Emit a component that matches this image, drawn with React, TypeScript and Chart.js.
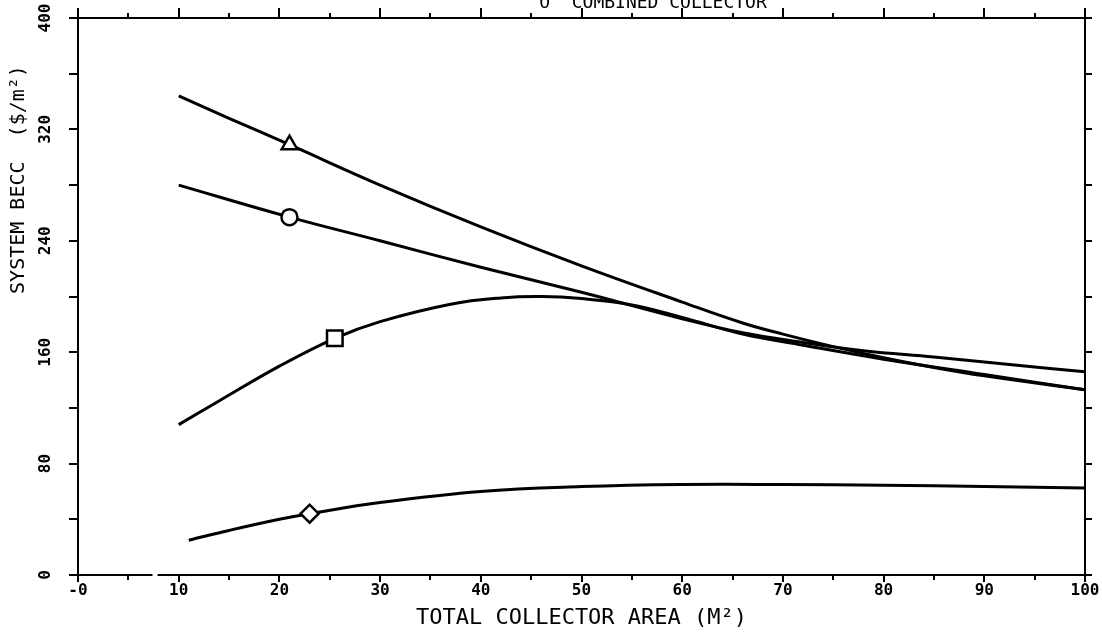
import React, { useEffect, useRef } from 'react';
import { Chart, registerables } from 'chart.js';

Chart.register(...registerables);

// ---- data ----
const triangleX = [10, 15, 21, 30, 40, 50, 60, 66, 70, 75, 80, 85, 90, 100];
const triangleY = [344, 328, 309, 280, 250, 222, 196, 181, 173, 164, 156, 149, 143, 133];
const triangleMarkerIndex = 2;

const circleX = [10, 21, 30, 40, 50, 60, 66, 72, 78, 85, 92, 100];
const circleY = [280, 257, 240, 221, 203, 184, 174, 167, 161, 156.5, 151.5, 146];
const circleMarkerIndex = 1;

const squareX = [10, 14, 20, 25.5, 30, 37, 42, 46, 50, 55, 60, 66, 72, 80, 90, 100];
const squareY = [108, 125, 150, 170, 182, 194.5, 199, 200, 198.5, 194, 185, 173, 165, 155, 144, 133];
const squareMarkerIndex = 3;

const diamondX = [11, 15, 20, 23, 30, 40, 50, 60, 70, 80, 90, 100];
const diamondY = [25, 32, 40, 44, 52, 60, 63.5, 65, 65, 64.5, 63.5, 62.5];
const diamondMarkerIndex = 3;

const X_MIN = 0;
const X_MAX = 100;
const X_MAJOR = 10;
const X_MINOR = 5;
const Y_MIN = 0;
const Y_MAX = 400;
const Y_MAJOR = 80;
const Y_MINOR = 40;
const AXIS_BREAK = [7.4, 7.9];

const xTitle = 'TOTAL COLLECTOR AREA (M\u00B2)';
const yTitle = 'SYSTEM BECC  ($/m\u00B2)';
const legendText = 'O  COMBINED COLLECTOR';
const LEGEND_X_VALUE = 45.8;
const Y_TITLE_CENTER_VALUE = 284;

const FONT = '"DejaVu Sans Mono", "Liberation Mono", monospace';

function toPoints(xs: number[], ys: number[]) {
  return xs.map((x, i) => ({ x, y: ys[i] }));
}

function markerRadii(n: number, idx: number, r: number) {
  return Array.from({ length: n }, (_, i) => (i === idx ? r : 0));
}

const decorPlugin = {
  id: 'decor',
  afterDraw(chart: any) {
    const ctx = chart.ctx as CanvasRenderingContext2D;
    const a = chart.chartArea;
    const xs = chart.scales.x;
    const ys = chart.scales.y;
    ctx.save();
    // axis break on the bottom axis
    const b1 = xs.getPixelForValue(AXIS_BREAK[0]);
    const b2 = xs.getPixelForValue(AXIS_BREAK[1]);
    ctx.fillStyle = '#fff';
    ctx.fillRect(b1, a.bottom - 3, b2 - b1, 6);

    // tick marks
    ctx.strokeStyle = '#000';
    ctx.lineWidth = 2;
    const line = (x1: number, y1: number, x2: number, y2: number) => {
      ctx.beginPath();
      ctx.moveTo(x1, y1);
      ctx.lineTo(x2, y2);
      ctx.stroke();
    };
    for (let v = X_MIN; v <= X_MAX; v += X_MINOR) {
      const major = v % X_MAJOR === 0;
      const px = Math.round(xs.getPixelForValue(v));
      if (!(v > AXIS_BREAK[0] && v < AXIS_BREAK[1])) {
        line(px, a.bottom, px, a.bottom + (major ? 7 : 5));
      }
      line(px, a.top, px, a.top - (major ? 10 : 5));
    }
    for (let v = Y_MIN; v <= Y_MAX; v += Y_MINOR) {
      const py = Math.round(ys.getPixelForValue(v));
      line(a.left, py, a.left - 9, py);
      line(a.right, py, a.right + 7, py);
    }

    // y title
    ctx.fillStyle = '#000';
    ctx.font = `20px ${FONT}`;
    ctx.textAlign = 'center';
    ctx.textBaseline = 'middle';
    ctx.translate(19, ys.getPixelForValue(Y_TITLE_CENTER_VALUE));
    ctx.rotate(-Math.PI / 2);
    ctx.fillText(yTitle, 0, 0);
    ctx.restore();

    // clipped legend fragment at the top
    ctx.save();
    ctx.fillStyle = '#000';
    ctx.font = `18px ${FONT}`;
    ctx.textAlign = 'left';
    ctx.textBaseline = 'alphabetic';
    ctx.fillText(legendText, xs.getPixelForValue(LEGEND_X_VALUE), 8);
    ctx.restore();
  },
};

function lineDataset(label: string, xs: number[], ys: number[], style: any, idx: number, r: number, rotation = 0) {
  return {
    label,
    data: toPoints(xs, ys),
    borderColor: '#000',
    borderWidth: 3,
    backgroundColor: '#fff',
    fill: false,
    tension: 0.4,
    pointStyle: style,
    pointRotation: rotation,
    pointRadius: markerRadii(xs.length, idx, r),
    pointHoverRadius: 0,
    pointBackgroundColor: '#fff',
    pointBorderColor: '#000',
    pointBorderWidth: 2.5,
  };
}

function zeroPadding(s: any) {
  s.paddingLeft = 0;
  s.paddingRight = 0;
  s.paddingTop = 0;
  s.paddingBottom = 0;
}

export default function App() {
  const ref = useRef<HTMLCanvasElement | null>(null);

  useEffect(() => {
    if (!ref.current) return;
    const hiddenAxis = (position: string, size: number, horizontal: boolean, min: number, max: number) => ({
      type: 'linear' as const,
      position,
      min,
      max,
      ticks: { display: false },
      grid: { display: false, drawTicks: false },
      border: { display: true, color: '#000', width: 2 },
      afterFit: (s: any) => {
        if (horizontal) s.height = size;
        else s.width = size;
        zeroPadding(s);
      },
    });

    const chart = new Chart(ref.current, {
      type: 'line',
      data: {
        datasets: [
          lineDataset('triangle', triangleX, triangleY, 'triangle', triangleMarkerIndex, 9),
          lineDataset('circle', circleX, circleY, 'circle', circleMarkerIndex, 8),
          lineDataset('square', squareX, squareY, 'rect', squareMarkerIndex, 11),
          lineDataset('diamond', diamondX, diamondY, 'rectRot', diamondMarkerIndex, 9),
        ],
      },
      options: {
        responsive: false,
        animation: false,
        events: [],
        layout: { padding: 0 },
        plugins: {
          legend: { display: false },
          tooltip: { enabled: false },
          title: { display: false },
        },
        scales: {
          x: {
            type: 'linear',
            position: 'bottom',
            min: X_MIN,
            max: X_MAX,
            ticks: {
              stepSize: X_MAJOR,
              autoSkip: false,
              maxRotation: 0,
              minRotation: 0,
              padding: 6,
              color: '#000',
              font: { family: FONT, size: 16, weight: 'bold' },
              callback: (v: any) => (Number(v) === 0 ? '-0' : String(v)),
            },
            grid: { display: false, drawTicks: false },
            border: { display: true, color: '#000', width: 2 },
            title: {
              display: true,
              text: xTitle,
              color: '#000',
              font: { family: FONT, size: 22, weight: 'normal' },
              padding: { top: 0, bottom: 3 },
            },
            afterFit: (s: any) => {
              s.height = 59;
              zeroPadding(s);
            },
          },
          x2: hiddenAxis('top', 18, true, X_MIN, X_MAX),
          y: {
            type: 'linear',
            position: 'left',
            min: Y_MIN,
            max: Y_MAX,
            ticks: {
              stepSize: Y_MAJOR,
              autoSkip: false,
              minRotation: 90,
              maxRotation: 90,
              crossAlign: 'center',
              padding: 18,
              color: '#000',
              font: { family: FONT, size: 16, weight: 'bold' },
            },
            grid: { display: false, drawTicks: false },
            border: { display: true, color: '#000', width: 2 },
            afterFit: (s: any) => {
              s.width = 78;
              zeroPadding(s);
            },
          },
          y2: hiddenAxis('right', 17, false, Y_MIN, Y_MAX),
        } as any,
      },
      plugins: [decorPlugin],
    });
    return () => chart.destroy();
  }, []);

  return (
    <div style={{ position: 'fixed', left: 0, top: 0, width: 1102, height: 634, background: '#fff' }}>
      <canvas ref={ref} width={1102} height={634} style={{ display: 'block', width: 1102, height: 634 }} />
    </div>
  );
}
